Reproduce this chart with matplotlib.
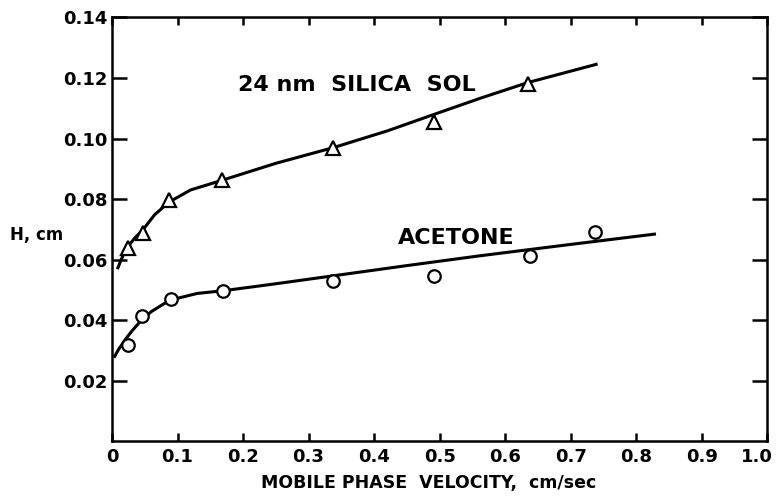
import matplotlib
matplotlib.use("Agg")
import matplotlib.pyplot as plt
from matplotlib.transforms import ScaledTranslation

plt.rcParams['font.family'] = ['DejaVu Sans']
plt.rcParams['font.weight'] = 'bold'

# measured plate heights, 24 nm silica sol (triangles)
silica_u = [0.024, 0.047, 0.087, 0.168, 0.338, 0.492, 0.635]
silica_h = [0.0638, 0.0687, 0.0797, 0.0863, 0.0968, 0.1056, 0.1179]

# measured plate heights, acetone (circles)
acetone_u = [0.024, 0.045, 0.090, 0.170, 0.338, 0.491, 0.638, 0.737]
acetone_h = [0.0316, 0.0412, 0.0471, 0.0495, 0.0528, 0.0547, 0.0613, 0.0691]

# hand-drawn fit curves
silica_fit_u = [0.009, 0.015, 0.024, 0.035, 0.047, 0.065, 0.087, 0.12, 0.168,
                0.25, 0.338, 0.42, 0.492, 0.562, 0.635, 0.739]
silica_fit_h = [0.0573, 0.0605, 0.0642, 0.0672, 0.0698, 0.0748, 0.0790, 0.0830,
                0.0862, 0.0918, 0.0970, 0.1025, 0.1080, 0.1133, 0.1185, 0.1245]

acetone_fit_u = [0.004, 0.010, 0.020, 0.030, 0.045, 0.060, 0.080, 0.100, 0.130,
                 0.170, 0.25, 0.35, 0.45, 0.56, 0.70, 0.828]
acetone_fit_h = [0.0280, 0.0303, 0.0335, 0.0363, 0.0400, 0.0428, 0.0455, 0.0472,
                 0.0488, 0.0497, 0.0520, 0.0550, 0.0580, 0.0612, 0.0650, 0.0684]

xticks = [0, 0.1, 0.2, 0.3, 0.4, 0.5, 0.6, 0.7, 0.8, 0.9, 1.0]
xtick_labels = ['0', '0.1', '0.2', '0.3', '0.4', '0.5', '0.6', '0.7', '0.8', '0.9', '1.0']
yticks = [0.02, 0.04, 0.06, 0.08, 0.10, 0.12, 0.14]
ytick_labels = ['0.02', '0.04', '0.06', '0.08', '0.10', '0.12', '0.14']

fig = plt.figure(figsize=(7.78, 4.99), dpi=100)
ax = fig.add_axes([0.144, 0.116, 0.842, 0.849])

ax.plot(silica_fit_u, silica_fit_h, color='black', lw=2.2, zorder=2)
ax.plot(acetone_fit_u, acetone_fit_h, color='black', lw=2.2, zorder=2)
ax.plot(silica_u, silica_h, linestyle='none', marker='^', ms=10,
        mfc='white', mec='black', mew=1.6, zorder=3)
ax.plot(acetone_u, acetone_h, linestyle='none', marker='o', ms=9,
        mfc='white', mec='black', mew=1.6, zorder=3)

ax.text(0.192, 0.1177, '24 nm  SILICA  SOL', fontsize=16, fontweight='bold',
        va='center', ha='left')
ax.text(0.437, 0.0672, 'ACETONE', fontsize=16, fontweight='bold',
        va='center', ha='left')

ax.set_xlim(0, 1.0)
ax.set_ylim(0, 0.14)
ax.set_xticks(xticks)
ax.set_xticklabels(xtick_labels)
ax.set_yticks(yticks)
ax.set_yticklabels(ytick_labels)

ax.tick_params(axis='x', direction='in', length=6, width=1.8, top=True,
               labelsize=13, pad=5)
ax.tick_params(axis='y', direction='in', length=11, width=1.8, right=True,
               labelsize=13, pad=3)
for s in ax.spines.values():
    s.set_linewidth(1.8)

# keep the "1.0" label inside the figure
last = ax.get_xticklabels()[-1]
last.set_ha('right')
last.set_transform(last.get_transform() + ScaledTranslation(0.06, 0, fig.dpi_scale_trans))

ax.set_xlabel('MOBILE PHASE  VELOCITY,  cm/sec', fontsize=12.5,
              fontweight='bold', labelpad=6)
ax.xaxis.label.set_x(0.483)
ax.text(-0.155, 0.068, 'H, cm', fontsize=12, fontweight='bold',
        va='center', ha='left', transform=ax.get_yaxis_transform())

fig.savefig('out.png', dpi=100)
